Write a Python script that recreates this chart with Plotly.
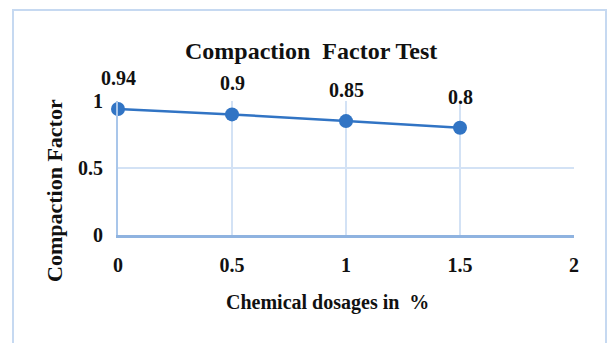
import plotly.graph_objects as go

# Compaction factor measured at each chemical dosage (%)
dosage = [0, 0.5, 1, 1.5]
compaction_factor = [0.94, 0.9, 0.85, 0.8]
x_ticks = [0, 0.5, 1, 1.5, 2]
y_ticks = [0, 0.5, 1]

title_text = "Compaction  Factor Test"
x_title = "Chemical dosages in  %"
y_title = "Compaction Factor"

W, H = 609, 343
L, R, T, B = 118, 35, 101, 108
PW, PH = W - L - R, H - T - B


def px(x):
    return (x - L) / PW


def py(y):
    return (H - B - y) / PH


SERIF = "Liberation Serif, Times New Roman, serif"
GRID = "#d3e2f5"
AXIS = "#8fb3e0"
BLUE = "#3174c4"
INK = "#111111"

fig = go.Figure()
fig.add_trace(go.Scatter(
    x=dosage, y=compaction_factor, mode="lines+markers",
    line=dict(color=BLUE, width=2.5),
    marker=dict(color=BLUE, size=14),
    cliponaxis=False, showlegend=False, hoverinfo="skip",
))

annotations = []
for xv, yv in zip(dosage, compaction_factor):
    annotations.append(dict(
        x=xv, y=yv, xref="x", yref="y", text=f"<b>{yv:g}</b>",
        showarrow=False, yshift=31, xanchor="center", yanchor="middle",
        font=dict(family=SERIF, size=20, color=INK),
    ))

annotations += [
    dict(x=px(311), y=py(51), xref="paper", yref="paper", text=f"<b>{title_text}</b>",
         xanchor="center", yanchor="middle",
         showarrow=False, font=dict(family=SERIF, size=24, color=INK)),
    dict(x=px(327), y=py(302), xref="paper", yref="paper", text=f"<b>{x_title}</b>",
         xanchor="center", yanchor="middle",
         showarrow=False, font=dict(family=SERIF, size=20, color=INK)),
    dict(x=px(54), y=py(191), xref="paper", yref="paper", text=f"<b>{y_title}</b>",
         xanchor="center", yanchor="middle",
         textangle=-90, showarrow=False, font=dict(family=SERIF, size=22, color=INK)),
]

fig.update_layout(
    width=W, height=H,
    margin=dict(l=L, r=R, t=T, b=B),
    paper_bgcolor="white", plot_bgcolor="white",
    annotations=annotations,
    shapes=[dict(type="rect", xref="paper", yref="paper",
                 x0=px(13), x1=px(606), y0=py(380), y1=py(10),
                 line=dict(color="#c6d9f1", width=2), layer="below")],
    xaxis=dict(range=[0, 2], tickvals=x_ticks, ticktext=[f"<b>{v:g}</b>" for v in x_ticks],
               showgrid=True, gridcolor=GRID, gridwidth=1.5,
               showline=True, linecolor=AXIS, linewidth=3, zeroline=False,
               ticklabelstandoff=10, tickfont=dict(family=SERIF, size=20, color=INK)),
    yaxis=dict(range=[0, 1], tickvals=y_ticks, ticktext=[f"<b>{v:g}</b>" for v in y_ticks],
               showgrid=True, gridcolor=GRID, gridwidth=1.5,
               showline=True, linecolor="#a9c6ea", linewidth=2, zeroline=False,
               ticklabelstandoff=9, tickfont=dict(family=SERIF, size=20, color=INK)),
)

fig.write_html("out.html")
